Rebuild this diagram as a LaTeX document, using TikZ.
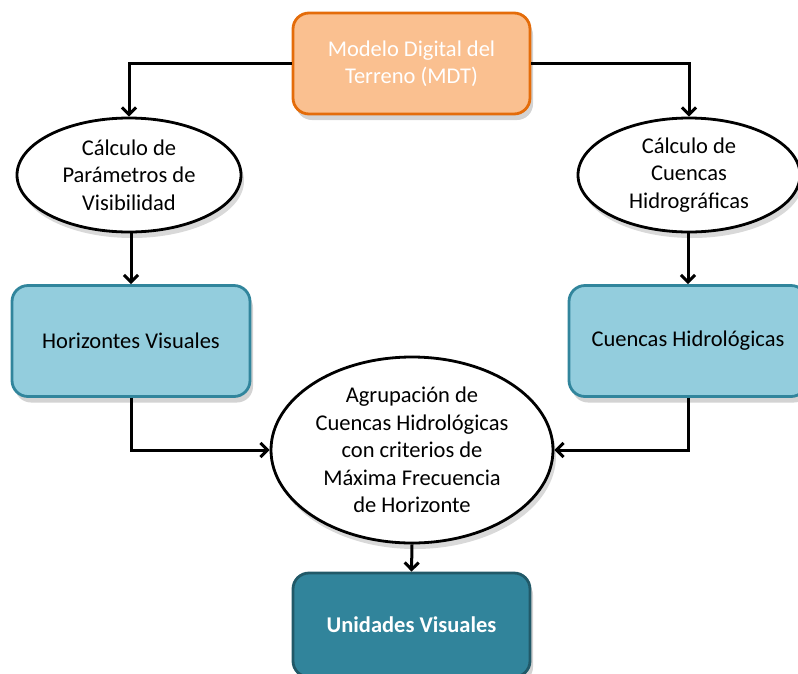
\documentclass[tikz,border=0pt]{standalone}
\usepackage{fontspec}
\setmainfont{Carlito}
\usetikzlibrary{shapes.geometric,shadows,arrows.meta}
\definecolor{orfill}{HTML}{FAC090}
\definecolor{ordraw}{HTML}{E46C0A}
\definecolor{ltfill}{HTML}{93CDDD}
\definecolor{ltdraw}{HTML}{31859C}
\definecolor{dkfill}{HTML}{31849B}
\definecolor{dkdraw}{HTML}{215968}
\tikzset{
  boxbase/.style={rectangle, rounded corners=16pt, line width=2.8pt, align=center,
    font=\fontsize{22.5}{27}\selectfont,
    drop shadow={opacity=0.35, shadow xshift=3pt, shadow yshift=-6pt}},
  mdtbox/.style={boxbase, fill=orfill, draw=ordraw, text=white, minimum width=237pt, minimum height=101pt},
  ltbox/.style={boxbase, fill=ltfill, draw=ltdraw, text=black, minimum width=238pt, minimum height=111pt},
  dkbox/.style={boxbase, fill=dkfill, draw=dkdraw, text=white, font=\fontsize{22.5}{27}\selectfont\bfseries, minimum width=237pt, minimum height=104pt},
  ell/.style={ellipse, draw=black, fill=white, line width=2.8pt, align=center, inner sep=0pt,
    font=\fontsize{22.5}{27.5}\selectfont,
    drop shadow={opacity=0.3, shadow xshift=3pt, shadow yshift=-6pt}},
  conn/.style={line width=3pt, -{Straight Barb[length=7pt,width=14pt]}}
}
\begin{document}
\begin{tikzpicture}[x=1pt,y=-1pt]
\useasboundingbox (0,0) rectangle (798,673);
\node[mdtbox] (mdt) at (411.5,63.5) {Modelo Digital del\\Terreno (MDT)};
\node[ell, minimum width=224pt, minimum height=114pt] (vis) at (129,175) {Cálculo de\\Parámetros de\\Visibilidad};
\node[ell, minimum width=222pt, minimum height=114pt] (cue) at (689,175) {Cálculo de\\Cuencas\\Hidrográficas};
\node[ltbox] (hor) at (131,341) {Horizontes Visuales};
\node[ltbox] (hid) at (688,341) {Cuencas Hidrológicas};
\node[ell, minimum width=282pt, minimum height=186pt] (agr) at (412,450) {Agrupación de\\Cuencas Hidrológicas\\con criterios de\\Máxima Frecuencia\\de Horizonte};
\node[dkbox] (uni) at (411.5,625) {Unidades Visuales};
\draw[conn] (mdt.west) -| (vis.north);
\draw[conn] (mdt.east) -| (cue.north);
\draw[conn] (vis.south -| hor.north) -- (hor.north);
\draw[conn] (cue.south -| hid.north) -- (hid.north);
\draw[conn] (hor.south) |- (agr.west);
\draw[conn] (hid.south) |- (agr.east);
\draw[conn] (agr.south) -- (uni.north);
\end{tikzpicture}
\end{document}
